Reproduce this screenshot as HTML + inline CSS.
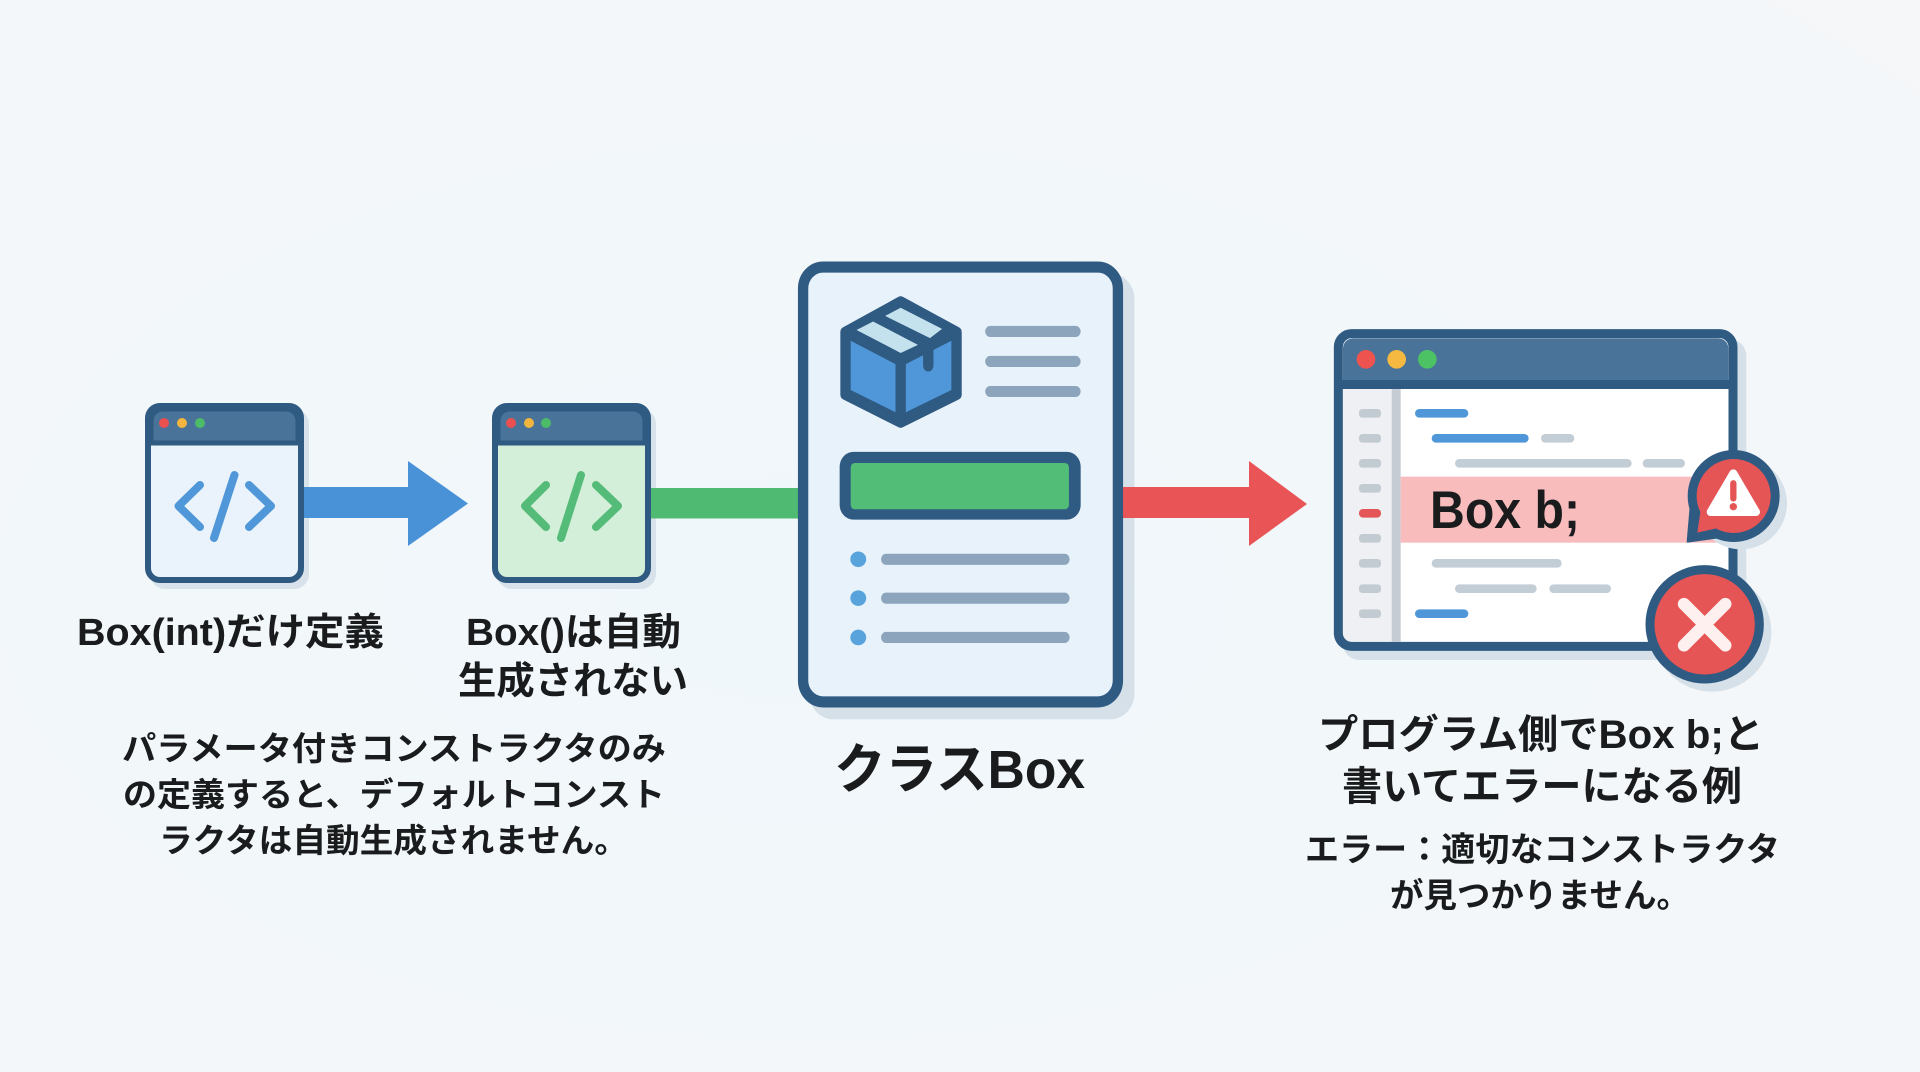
<!DOCTYPE html>
<html lang="ja">
<head>
<meta charset="utf-8">
<title>クラスBox</title>
<style>
html,body{margin:0;padding:0;width:1920px;height:1072px;overflow:hidden;background:#f4f7f9}
svg{display:block}
text{font-family:"Liberation Sans","Noto Sans CJK JP",sans-serif;font-weight:700;fill:#191b1d;text-anchor:start}
</style>
</head>
<body>
<svg width="1920" height="1072" viewBox="0 0 1920 1072" xmlns="http://www.w3.org/2000/svg">
<defs>
<radialGradient id="bg" cx="0.42" cy="0.55" r="0.8">
<stop offset="0" stop-color="#f0f7fa"/>
<stop offset="1" stop-color="#f5f7f9"/>
</radialGradient>
</defs>
<rect width="1920" height="1072" fill="url(#bg)"/>

<!-- shadows -->
<rect x="150" y="409" width="159" height="180" rx="15" fill="#d8e2ea"/>
<rect x="497" y="409" width="159" height="180" rx="15" fill="#d8e2ea"/>
<g transform="translate(780 240) scale(0.3448 0.3704)">
<rect x="85" y="90" width="943" height="1204" rx="70" fill="#d5e0e9"/>
</g>

<!-- connectors -->
<path d="M300 487H408V461L468 503.500L408 546V518H300Z" fill="#4a92d8"/>
<rect x="648" y="488" width="155" height="30.500" fill="#4fbb72"/>
<path d="M1118 487H1249V461L1307 504L1249 546V518H1118Z" fill="#e95557"/>

<!-- window 1 -->
<rect x="148" y="406" width="153" height="174" rx="12" fill="#eaf3fb" stroke="#2f5a82" stroke-width="6"/>
<path d="M151 443V421a12 12 0 0 1 12-12H286a12 12 0 0 1 12 12V443Z" fill="#4a7399" stroke="#2f5a82" stroke-width="5"/>
<circle cx="164" cy="423" r="5" fill="#ea5050"/><circle cx="182" cy="423" r="5" fill="#f2b63f"/><circle cx="200" cy="423" r="5" fill="#4cbc68"/>
<g fill="none" stroke="#4f97d8" stroke-width="8" stroke-linecap="round" stroke-linejoin="round">
<path d="M200 485L178.500 506L200 527"/><path d="M234.500 475L214 538"/><path d="M249 485L271 506L249 527"/>
</g>

<!-- window 2 -->
<rect x="495" y="406" width="153" height="174" rx="12" fill="#d4efd9" stroke="#2f5a82" stroke-width="6"/>
<path d="M498 443V421a12 12 0 0 1 12-12H633a12 12 0 0 1 12 12V443Z" fill="#4a7399" stroke="#2f5a82" stroke-width="5"/>
<circle cx="511" cy="423" r="5" fill="#ea5050"/><circle cx="529" cy="423" r="5" fill="#f2b63f"/><circle cx="546" cy="423" r="5" fill="#4cbc68"/>
<g fill="none" stroke="#55bb78" stroke-width="8" stroke-linecap="round" stroke-linejoin="round">
<path d="M546 485L525 506L546 527"/><path d="M581 475L561 538"/><path d="M596 485L618 506L596 527"/>
</g>

<!-- card -->
<g transform="translate(780 240) scale(0.3448 0.3704)">
<rect x="67" y="73" width="913" height="1174" rx="58" fill="#e8f2fb" stroke="#2f5a82" stroke-width="30"/>
<path d="M350 167L512 249V417L350 492L190 417V249Z" fill="#2f5a82" stroke="#2f5a82" stroke-width="30" stroke-linejoin="round"/>
<path d="M205 272L335 335V465L205 405Z" fill="#4f97d8"/>
<path d="M365 335L497 272V405L365 465Z" fill="#4f97d8"/>
<path d="M222 243L270 220L400 283L350 305Z" fill="#c4e2ed"/>
<path d="M305 205L350 183L470 240L435 265Z" fill="#c4e2ed"/>
<path d="M430 295V340" stroke="#2f5a82" stroke-width="30" stroke-linecap="round"/>
<g fill="#8ca5bc">
<rect x="595" y="232" width="277" height="30" rx="15"/>
<rect x="595" y="313" width="277" height="30" rx="15"/>
<rect x="595" y="394" width="277" height="30" rx="15"/>
<rect x="293" y="847" width="547" height="30" rx="15"/>
<rect x="293" y="952" width="547" height="30" rx="15"/>
<rect x="293" y="1058" width="547" height="30" rx="15"/>
</g>
<rect x="173" y="572" width="699" height="183" rx="40" fill="#2f5a82"/>
<rect x="205" y="602" width="633" height="125" rx="12" fill="#52bd77"/>
<g fill="#58a3dc">
<ellipse cx="227" cy="862" rx="23" ry="21"/>
<ellipse cx="227" cy="967" rx="23" ry="21"/>
<ellipse cx="227" cy="1073" rx="23" ry="21"/>
</g>
</g>

<!-- terminal -->
<g transform="translate(1300 310) scale(0.33333)">
<rect x="127" y="86" width="1212" height="964" rx="52" fill="#d5e0e9"/>
<rect x="115" y="71" width="1184" height="938" rx="40" fill="#ffffff" stroke="#2f5a82" stroke-width="27"/>
<path d="M129 223V115a30 30 0 0 1 30-30H1255a30 30 0 0 1 30 30V223Z" fill="#4a7399"/>
<rect x="115" y="210" width="1184" height="27" fill="#2f5a82"/>
<circle cx="198" cy="148" r="28" fill="#ef5350"/><circle cx="290" cy="148" r="28" fill="#f5b942"/><circle cx="382" cy="148" r="28" fill="#4cc264"/>
<path d="M129 237H275V995H155a26 26 0 0 1-26-26Z" fill="#eef0f3"/>
<rect x="275" y="237" width="27" height="758" fill="#c5ccd4"/>
<g fill="#c3cbd2">
<rect x="177" y="297" width="66" height="26" rx="10"/>
<rect x="177" y="372" width="66" height="26" rx="10"/>
<rect x="177" y="447" width="66" height="26" rx="10"/>
<rect x="177" y="522" width="66" height="26" rx="10"/>
<rect x="177" y="672" width="66" height="26" rx="10"/>
<rect x="177" y="747" width="66" height="26" rx="10"/>
<rect x="177" y="823" width="66" height="26" rx="10"/>
<rect x="177" y="898" width="66" height="26" rx="10"/>
</g>
<rect x="177" y="597" width="66" height="26" rx="12" fill="#e45557"/>
<rect x="302" y="500" width="983" height="198" fill="#f8bcbd"/>
<g fill="#4f97d8">
<rect x="345" y="297" width="160" height="26" rx="13"/>
<rect x="395" y="372" width="291" height="26" rx="13"/>
<rect x="345" y="898" width="160" height="26" rx="13"/>
</g>
<g fill="#c3cdd5">
<rect x="723" y="372" width="100" height="26" rx="13"/>
<rect x="465" y="447" width="530" height="26" rx="13"/>
<rect x="1028" y="447" width="127" height="26" rx="13"/>
<rect x="395" y="747" width="390" height="26" rx="13"/>
<rect x="465" y="823" width="245" height="26" rx="13"/>
<rect x="748" y="823" width="185" height="26" rx="13"/>
</g>
<!-- warning bubble -->
<path d="M1440 575A138 138 0 0 1 1310 712L1300 716L1340 712Z" fill="#d5e0e9"/>
<circle cx="1323" cy="580" r="138" fill="#d5e0e9"/>
<circle cx="1301" cy="558" r="138" fill="#2f5a82"/>
<path d="M1172 590L1163 695L1270 680Z" fill="#2f5a82" stroke="#2f5a82" stroke-width="6" stroke-linejoin="round"/>
<path d="M1202 600L1192 668L1262 652Z" fill="#e65555"/>
<circle cx="1301" cy="558" r="111" fill="#e65555"/>
<path d="M1300 490L1368 606H1232Z" fill="#ffffff" stroke="#ffffff" stroke-width="24" stroke-linejoin="round"/>
<path d="M1300 520V565" stroke="#e65555" stroke-width="19" stroke-linecap="round"/>
<circle cx="1300" cy="590" r="11" fill="#e65555"/>
<!-- x badge -->
<circle cx="1236" cy="967" r="178" fill="#d5e0e9"/>
<circle cx="1214" cy="943" r="164" fill="#e65555" stroke="#2f5a82" stroke-width="27"/>
<path d="M1152 882L1276 1006M1276 882L1152 1006" stroke="#fdf0ee" stroke-width="37" stroke-linecap="round"/>
</g>
<text x="1430" y="528" font-size="53" textLength="150" lengthAdjust="spacingAndGlyphs">Box b;</text>

<!-- labels -->
<text x="77" y="645" font-size="38" textLength="307" lengthAdjust="spacingAndGlyphs">Box(int)だけ定義</text>
<text x="466" y="645" font-size="38" textLength="215" lengthAdjust="spacingAndGlyphs">Box()は自動</text>
<text x="458" y="694" font-size="38" textLength="230" lengthAdjust="spacingAndGlyphs">生成されない</text>
<text x="122" y="760" font-size="33" textLength="544" lengthAdjust="spacingAndGlyphs">パラメータ付きコンストラクタのみ</text>
<text x="123" y="806" font-size="33" textLength="542" lengthAdjust="spacingAndGlyphs">の定義すると、デフォルトコンスト</text>
<text x="159" y="852" font-size="33" textLength="469" lengthAdjust="spacingAndGlyphs">ラクタは自動生成されません。</text>
<text x="834" y="788" font-size="54" textLength="251" lengthAdjust="spacingAndGlyphs">クラスBox</text>
<text x="1318" y="748" font-size="40" textLength="446" lengthAdjust="spacingAndGlyphs">プログラム側でBox b;と</text>
<text x="1342" y="800" font-size="40" textLength="400" lengthAdjust="spacingAndGlyphs">書いてエラーになる例</text>
<text x="1305" y="861" font-size="33.500" textLength="475" lengthAdjust="spacingAndGlyphs">エラー：適切なコンストラクタ</text>
<text x="1390" y="907" font-size="33.500" textLength="300" lengthAdjust="spacingAndGlyphs">が見つかりません。</text>
</svg>
</body>
</html>
